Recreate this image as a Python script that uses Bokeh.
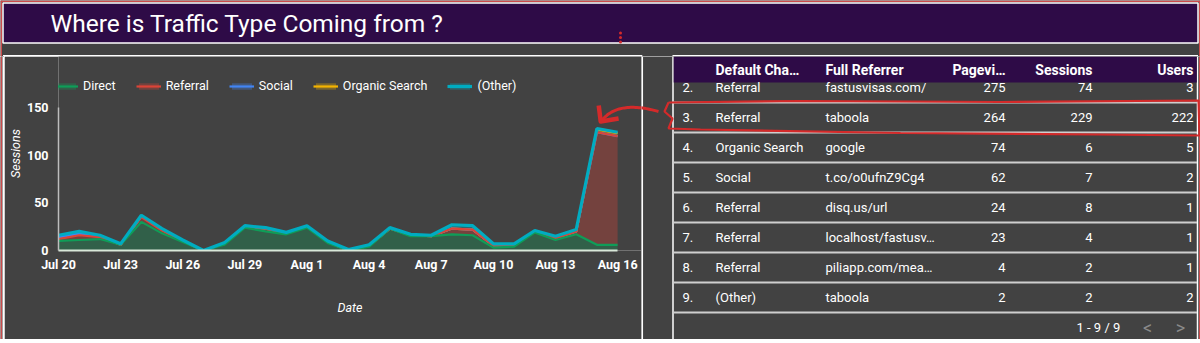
import numpy as np
import pandas as pd
from bokeh.plotting import figure
from bokeh.layouts import column, row
from bokeh.models import Range1d, FixedTicker, Legend, LegendItem, ColumnDataSource
from bokeh.transform import stack
from bokeh.core.properties import value
from bokeh.embed import file_html
from bokeh.resources import INLINE

# ---------------- data ----------------
dates = pd.date_range("2019-07-20", "2019-08-16", freq="D")
direct   = [10, 11, 12, 6, 30, 18, 9, 0, 6, 24, 20, 17, 24, 8, 0, 4, 23, 15, 15, 17, 16, 3, 4, 19, 11, 17, 6, 6]
referral = [2, 5, 2, 0, 5, 3, 1, 0, 1, 1, 3, 1, 1, 1, 0, 1, 0, 1, 0, 6, 6, 2, 2, 1, 2, 3, 118, 114]
social   = [2, 2, 1, 0, 1, 1, 0, 0, 0, 0, 0, 0, 0, 0, 0, 0, 0, 0, 0, 0, 0, 0, 0, 0, 0, 0, 0, 0]
organic  = [0, 0, 0, 0, 0, 0, 0, 0, 0, 0, 0, 0, 0, 0, 0, 0, 0, 0, 0, 0, 0, 0, 0, 0, 0, 0, 3, 3]
other    = [2, 2, 1, 1, 1, 1, 1, 0, 1, 1, 1, 1, 1, 1, 1, 1, 1, 1, 1, 4, 4, 2, 1, 1, 2, 2, 1, 1]
series_labels = ["Direct", "Referral", "Social", "Organic Search", "(Other)"]
series_colors = ["#0f9d58", "#db4437", "#4285f4", "#f4b400", "#00acc1"]
x_tick_dates = pd.date_range("2019-07-20", "2019-08-16", freq="3D")
x_tick_labels = ["Jul 20", "Jul 23", "Jul 26", "Jul 29", "Aug 1", "Aug 4", "Aug 7", "Aug 10", "Aug 13", "Aug 16"]
y_ticks = [0, 50, 100, 150]

title_text = "Where is Traffic Type Coming from ?"
tbl_headers = ["Default Cha…", "Full Referrer", "Pagevi…", "Sessions", "Users"]
tbl_rank = ["2.", "3.", "4.", "5.", "6.", "7.", "8.", "9."]
tbl_channel = ["Referral", "Referral", "Organic Search", "Social", "Referral", "Referral", "Referral", "(Other)"]
tbl_referrer = ["fastusvisas.com/", "taboola", "google", "t.co/o0ufnZ9Cg4", "disq.us/url",
                "localhost/fastusv…", "piliapp.com/mea…", "taboola"]
tbl_pageviews = [275, 264, 74, 62, 24, 23, 4, 2]
tbl_sessions = [74, 229, 6, 7, 8, 4, 2, 2]
tbl_users = [3, 222, 5, 2, 1, 1, 1, 2]
pager_text = "1 - 9 / 9"

# ---------------- style / layout (page pixel geometry) ----------------
BG = "#424242"
PURPLE = "#2e0b47"
RED = "#d42a2a"
EDGE = "#cc4b4b"
FONT = "Roboto"
W, H = 1200, 343
TOP_H = 56          # title strip incl. panel top borders
BOT_H = 4           # bottom strip
BODY_H = H - TOP_H - BOT_H
LEFT_W = 4
CHART_R = 641       # right edge of chart canvas
CHART_W = CHART_R - LEFT_W
TABLE_W = W - CHART_R


def blank_fig(w, h, x0, x1, y0, y1):
    p = figure(width=w, height=h, x_range=Range1d(x0, x1), y_range=Range1d(y1, y0),
               output_backend="svg", toolbar_location=None, min_border=0,
               x_axis_location=None, y_axis_location=None)
    p.grid.visible = False
    p.outline_line_color = None
    p.background_fill_color = BG
    p.border_fill_color = BG
    return p


# hand-drawn arrow path (annotation) in page pixels
tt = np.linspace(0, 1, 40)
P0, C0, C1, P1 = (658, 111), (630, 103), (612, 107), (602, 119)
arrow_px = (1 - tt) ** 3 * P0[0] + 3 * (1 - tt) ** 2 * tt * C0[0] + 3 * (1 - tt) * tt ** 2 * C1[0] + tt ** 3 * P1[0]
arrow_py = (1 - tt) ** 3 * P0[1] + 3 * (1 - tt) ** 2 * tt * C0[1] + 3 * (1 - tt) * tt ** 2 * C1[1] + tt ** 3 * P1[1]

# ---------------- top strip ----------------
tp = blank_fig(W, TOP_H, 0, W, 0, TOP_H)
tp.quad(left=[2.5], right=[1197.5], top=[2.5], bottom=[42.5], fill_color=PURPLE,
        line_color="white", line_width=1.5)
tp.quad(left=[0, 0, 1198.5], right=[W, 1.5, W], top=[0, 0, 0], bottom=[1.5, TOP_H, TOP_H],
        fill_color=EDGE, line_color=None)
tp.segment(x0=[2.5, 672], x1=[641.8, 1197.5], y0=[55.2, 55.2], y1=[55.2, 55.2],
           line_color="white", line_width=1.5)
tp.text(x=[50], y=[23], text=[title_text], text_font=value(FONT), text_font_size="24.5px",
        text_color="white", text_baseline="middle", text_align="left")
tp.scatter(x=[620, 620, 620], y=[32.5, 37, 41.5], size=3, color=RED, line_color=None)

# ---------------- left strip ----------------
lp = blank_fig(LEFT_W, BODY_H, 0, LEFT_W, TOP_H, TOP_H + BODY_H)
lp.quad(left=[0, 2], right=[1.5, 3.5], top=[TOP_H, TOP_H], bottom=[H, H],
        fill_color=[EDGE, "white"], line_color=None)

# ---------------- chart ----------------
DAY_MS = 86400000
t0_ms = dates[0].value // 10**6
t_last_ms = dates[-1].value // 10**6
X0 = 55             # page x of first date
PX_DAY = 562 / 27
Y0 = 250            # page y of 0 sessions
PX_UNIT = 143 / 150
x_end = t0_ms + (CHART_R - X0) / PX_DAY * DAY_MS
y_end = (Y0 - TOP_H) / PX_UNIT

src = ColumnDataSource(dict(date=dates, direct=direct, referral=referral, social=social,
                            organic=organic, other=other))
names = ["direct", "referral", "social", "organic", "other"]

cp = figure(width=CHART_W, height=BODY_H, x_axis_type="datetime",
            x_range=Range1d(t0_ms, x_end), y_range=Range1d(0, y_end),
            output_backend="svg", toolbar_location=None,
            min_border_left=X0 - LEFT_W, min_border_right=0, min_border_top=0,
            min_border_bottom=TOP_H + BODY_H - Y0)
cp.grid.visible = False
cp.outline_line_color = None
cp.background_fill_color = BG
cp.border_fill_color = BG

areas = cp.varea_stack(stackers=names, x="date", color=series_colors, fill_alpha=0.33, source=src)
# lines at each stacked top: inner series drawn lower-last so they win where they coincide,
# the (Other) total line is drawn last, on top
lines = [None] * len(names)
for i in [3, 2, 1, 0, 4]:
    lines[i] = cp.line(x="date", y=stack(*names[:i + 1]), source=src, line_color=series_colors[i],
                       line_width=3.2 if i == 4 else 2.2)

tick_ms = [d.value // 10**6 for d in x_tick_dates]
cp.xaxis.ticker = FixedTicker(ticks=tick_ms)
cp.xaxis.major_label_overrides = {t: lab for t, lab in zip(tick_ms, x_tick_labels)}
cp.xaxis.bounds = (t0_ms, t_last_ms)
cp.yaxis.ticker = FixedTicker(ticks=y_ticks)
cp.yaxis.bounds = (0, 150)
for ax in (cp.xaxis[0], cp.yaxis[0]):
    ax.major_tick_line_color = None
    ax.minor_tick_line_color = None
    ax.major_label_text_font = FONT
    ax.major_label_text_font_size = "12.5px"
    ax.major_label_text_color = "white"
    ax.major_label_text_font_style = "bold"
    ax.axis_label_text_font = FONT
    ax.axis_label_text_font_size = "12.5px"
    ax.axis_label_text_font_style = "italic"
    ax.axis_label_text_color = "white"
cp.xaxis.axis_label = "Date"
cp.yaxis.axis_label = "Sessions"
cp.xaxis.axis_line_color = "#d9e8d9"
cp.xaxis.axis_line_width = 2
cp.yaxis.axis_line_color = "#bdbdbd"
cp.yaxis.axis_line_width = 1.5
cp.xaxis.major_label_standoff = 0
cp.xaxis.axis_label_standoff = 25
cp.yaxis.major_label_standoff = 4
cp.yaxis.axis_label_standoff = 1

items = [LegendItem(label=lab, renderers=[a, l]) for lab, a, l in zip(series_labels, areas, lines)]
leg = Legend(items=items, orientation="horizontal", location=(-5, 157), padding=0, margin=0,
             spacing=20, glyph_width=25, glyph_height=8, label_standoff=5,
             label_text_font=FONT, label_text_font_size="12.5px", label_text_color="white",
             background_fill_alpha=0, border_line_color=None)
cp.add_layout(leg)

# arrow part inside the chart (page px -> chart data units)
cp.line(t0_ms + (arrow_px - X0) / PX_DAY * DAY_MS, (Y0 - arrow_py) / PX_UNIT,
        line_color=RED, line_width=3)
cp.line([t0_ms + (px - X0) / PX_DAY * DAY_MS for px in (598, 600, 618)],
        [(Y0 - py) / PX_UNIT for py in (105, 121, 118)], line_color=RED, line_width=4.5,
        line_join="round")

# ---------------- table ----------------
tb = blank_fig(TABLE_W, BODY_H, CHART_R, W, TOP_H, TOP_H + BODY_H)
tb.segment(x0=[641.8, 672.5, 1197], x1=[641.8, 672.5, 1197], y0=[TOP_H] * 3, y1=[H] * 3,
           line_color="white", line_width=1.5)
tb.quad(left=[673.2], right=[1196.3], top=[TOP_H], bottom=[82], fill_color=PURPLE, line_color=None)
tb.quad(left=[1198.5], right=[W], top=[TOP_H], bottom=[H], fill_color=EDGE, line_color=None)

n = len(tbl_rank)
row_y = [87 + 30 * i for i in range(n)]
sep_y = [102 + 30 * i for i in range(n)]
tb.segment(x0=[673] * n, x1=[1196.5] * n, y0=sep_y, y1=sep_y, line_color="#cfcfcf", line_width=2)

hx = [715, 825, 1005, 1092, 1193]
ha = ["left", "left", "right", "right", "right"]
tb.text(x=hx, y=[69] * 5, text=tbl_headers, text_align=ha, text_baseline="middle",
        text_font=value(FONT), text_font_size="14px", text_font_style="bold", text_color="white")

tsrc = ColumnDataSource(dict(y=row_y, rank=tbl_rank, ch=tbl_channel, ref=tbl_referrer,
                             pv=[str(v) for v in tbl_pageviews], se=[str(v) for v in tbl_sessions],
                             us=[str(v) for v in tbl_users]))
for col, x, al in [("rank", 682, "left"), ("ch", 715, "left"), ("ref", 825, "left"),
                   ("pv", 1005, "right"), ("se", 1092, "right"), ("us", 1193, "right")]:
    tb.text(x=x, y="y", text=col, source=tsrc, text_align=al, text_baseline="middle",
            text_font=value(FONT), text_font_size="13px", text_color="white")

tb.text(x=[1076], y=[327], text=[pager_text], text_align="left", text_baseline="middle",
        text_font=value(FONT), text_font_size="13px", text_color="white")
tb.text(x=[1147, 1180], y=[327, 327], text=["<", ">"], text_align="center", text_baseline="middle",
        text_font=value(FONT), text_font_size="18px", text_color="#8a8a8a")

# hand-drawn red outline round row 3 and arrow tail (annotation)
tb.line(x=[668, 800, 1000, 1198, 1199, 1100, 900, 700, 668, 672, 664, 668],
        y=[102, 100.5, 101.5, 100, 135, 134, 132.5, 129, 128, 118, 111, 102],
        line_color=RED, line_width=2.2)
tb.line(arrow_px, arrow_py, line_color=RED, line_width=3)

# ---------------- bottom strip ----------------
bp = blank_fig(W, BOT_H, 0, W, H - BOT_H, H)
bp.segment(x0=[2, 672], x1=[641.8, 1197.5], y0=[340, 340], y1=[340, 340],
           line_color="white", line_width=1.5)
bp.quad(left=[0, 0, 1198.5], right=[W, 1.5, W], top=[341.5, H - BOT_H, H - BOT_H], bottom=[H, H, H],
        fill_color=EDGE, line_color=None)

layout = column(tp, row(column(lp), column(cp), column(tb)), bp)
open("out.html", "w").write(file_html(layout, INLINE))
